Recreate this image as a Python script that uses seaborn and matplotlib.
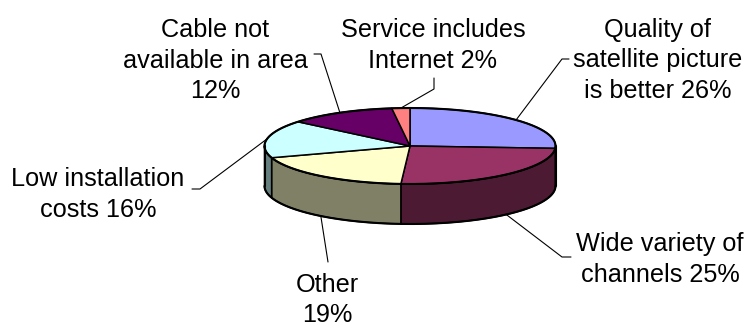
import numpy as np
import matplotlib
matplotlib.use("Agg")
import matplotlib.pyplot as plt
import seaborn as sns

# Reasons for choosing satellite TV (share of respondents, %)
categories = [
    "Quality of satellite picture is better",
    "Wide variety of channels",
    "Other",
    "Low installation costs",
    "Cable not available in area",
    "Service includes Internet",
]
shares = [26, 25, 19, 16, 12, 2]
label_templates = [
    "Quality of\nsatellite picture\nis better {}%",
    "Wide variety of\nchannels {}%",
    "Other\n{}%",
    "Low installation\ncosts {}%",
    "Cable not\navailable in area\n{}%",
    "Service includes\nInternet {}%",
]
top_colors = ["#9999FF", "#993366", "#FFFFCC", "#CCFFFF", "#660066", "#FF8080"]

sns.set_theme(style="white")
plt.rcParams["font.family"] = ["Liberation Sans", "DejaVu Sans"]

W, H = 747, 326
fig = plt.figure(figsize=(W / 100, H / 100), dpi=100)
ax = fig.add_axes([0, 0, 1, 1])
ax.set_xlim(0, W)
ax.set_ylim(H, 0)
ax.axis("off")

# tilted pie geometry (pixel units)
cx, cy, rx, ry, depth = 410, 146, 145.5, 38, 40


def rim(theta_deg, drop=0.0):
    """Point on the pie rim; angle measured clockwise from 12 o'clock."""
    t = np.radians(theta_deg)
    return cx + rx * np.sin(t), cy - ry * np.cos(t) + drop


palette = sns.color_palette(top_colors)
side_palette = [tuple(0.5 * c for c in col) for col in palette]

total = float(sum(shares))
bounds = np.concatenate([[0.0], np.cumsum(shares) / total * 360.0])

edge = dict(edgecolor="black", linewidth=1.1, joinstyle="round")

# side walls: only the front half of the rim is visible
for i in range(len(shares)):
    t1, t2 = max(bounds[i], 90.0), min(bounds[i + 1], 270.0)
    if t2 <= t1:
        continue
    th = np.linspace(t1, t2, 120)
    xs, ys = rim(th)
    xb, yb = rim(th[::-1], depth)
    ax.fill(np.r_[xs, xb], np.r_[ys, yb], facecolor=side_palette[i], **edge)

# top faces
for i in range(len(shares)):
    th = np.linspace(bounds[i], bounds[i + 1], 240)
    xs, ys = rim(th)
    ax.fill(np.r_[cx, xs], np.r_[cy, ys], facecolor=palette[i], **edge)

# heavier outer outline
th = np.linspace(0, 360, 721)
ax.plot(*rim(th), color="black", lw=1.5)
th = np.linspace(90, 270, 361)
ax.plot(*rim(th, depth), color="black", lw=1.5)
for t in (90, 270):
    x0, y0 = rim(t)
    ax.plot([x0, x0], [y0, y0 + depth], color="black", lw=1.5)

# leader routes and label placement
leader_routes = [
    [(562, 59), (569, 59)],
    [(562, 257), (571, 257)],
    [(328, 262)],
    [(200, 189), (192, 189)],
    [(321, 54), (314, 54)],
    [(434, 89), (434, 78)],
]
label_x = [658, 660, 327, 98, 215, 433]
label_baseline = [37, 251, 292, 186.5, 37, 37]
line_step = 30.5

for i, share in enumerate(shares):
    mid = 0.5 * (bounds[i] + bounds[i + 1])
    ax_, ay_ = rim(mid, depth if 90 < mid < 270 else 0.0)
    pts = [(ax_, ay_)] + leader_routes[i]
    ax.plot([p[0] for p in pts], [p[1] for p in pts], color="black", lw=0.8)
    for k, line in enumerate(label_templates[i].format(share).split("\n")):
        ax.text(label_x[i], label_baseline[i] + k * line_step, line,
                ha="center", va="baseline", fontsize=18.2, color="black")

fig.savefig("out.png", dpi=100)
